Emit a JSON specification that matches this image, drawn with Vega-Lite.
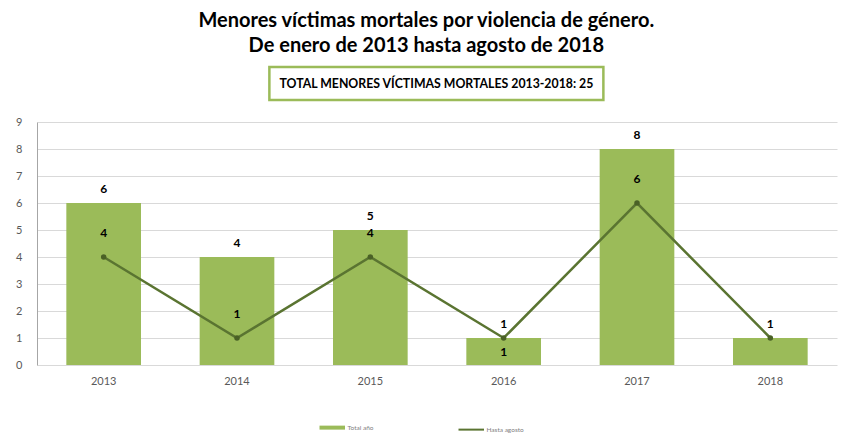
{
  "$schema": "https://vega.github.io/schema/vega-lite/v6.json",
  "background": "white",
  "padding": {"left": 15, "top": 10, "right": 5, "bottom": 2},
  "config": {"legend": {"layout": {"bottom": {"anchor": "middle"}}}},
  "title": {
    "text": ["Menores víctimas mortales por violencia de género.", "De enero de 2013 hasta agosto de 2018"],
    "anchor": "middle",
    "fontSize": 20,
    "font": "Lato",
    "fontWeight": "bold",
    "lineHeight": 25,
    "color": "#000000",
    "offset": 10
  },
  "datasets": {
    "d": [
      {"year": "2013", "total": 6, "hasta": 4},
      {"year": "2014", "total": 4, "hasta": 1},
      {"year": "2015", "total": 5, "hasta": 4},
      {"year": "2016", "total": 1, "hasta": 1},
      {"year": "2017", "total": 8, "hasta": 6},
      {"year": "2018", "total": 1, "hasta": 1}
    ],
    "box": [{"t": "TOTAL MENORES VÍCTIMAS MORTALES 2013-2018: 25"}]
  },
  "center": true,
  "spacing": 14,
  "vconcat": [
    {
      "width": 334,
      "height": 33,
      "data": {"name": "box"},
      "view": {"stroke": "#9bbb59", "strokeWidth": 2.5, "fill": "white"},
      "mark": {"type": "text", "font": "Lato", "fontWeight": "bold", "fontSize": 12.3, "color": "#000000", "align": "center", "baseline": "middle"},
      "encoding": {"text": {"field": "t"}}
    },
    {
      "width": 800,
      "height": 243,
      "data": {"name": "d"},
      "view": {"stroke": null},
      "encoding": {
        "x": {
          "field": "year",
          "type": "ordinal",
          "scale": {"paddingInner": 0.44, "paddingOuter": 0.22},
          "axis": {"title": null, "labelAngle": 0, "ticks": false, "domain": false, "grid": false, "labelColor": "#595959", "labelFontSize": 11, "labelFont": "Lato", "labelPadding": 10}
        }
      },
      "layer": [
        {
          "mark": {"type": "bar"},
          "encoding": {
            "y": {
              "field": "total",
              "type": "quantitative",
              "scale": {"domain": [0, 9]},
              "axis": {"title": null, "values": [0, 1, 2, 3, 4, 5, 6, 7, 8, 9], "labelOverlap": false, "grid": true, "gridColor": "#d9d9d9", "gridWidth": 1.2, "ticks": false, "domain": true, "domainColor": "#a6a6a6", "labelColor": "#595959", "labelFontSize": 11, "labelFont": "Lato", "labelPadding": 15}
            },
            "color": {
              "datum": "Total año",
              "scale": {"domain": ["Total año", "Hasta agosto"], "range": ["#9bbb59", "#5a7431"]},
              "legend": {
                "title": null,
                "orient": "bottom",
                "direction": "horizontal",
                "offset": 38,
                "symbolType": "stroke",
                "symbolSize": 650,
                "symbolStrokeWidth": 3,
                "labelFontSize": 6.5,
                "labelColor": "#7f7f7f",
                "labelFont": "Lato",
                "labelOffset": 12,
                "columnPadding": 80,
                "encode": {
                  "symbols": {
                    "update": {
                      "shape": {"value": "stroke"},
                      "size": {"value": 650},
                      "stroke": {"scale": "color", "field": "value"},
                      "strokeWidth": {"signal": "datum.value === 'Total año' ? 4 : 2"}
                    }
                  }
                }
              }
            }
          }
        },
        {
          "mark": {"type": "text", "dy": -14, "font": "Lato", "fontWeight": "bold", "fontSize": 12, "color": "#000000"},
          "encoding": {
            "y": {"field": "total", "type": "quantitative", "axis": {"title": null, "values": [0, 1, 2, 3, 4, 5, 6, 7, 8, 9], "labelOverlap": false, "grid": true, "gridColor": "#d9d9d9", "gridWidth": 1.2, "ticks": false, "domain": true, "domainColor": "#a6a6a6", "labelColor": "#595959", "labelFontSize": 11, "labelFont": "Lato", "labelPadding": 15}},
            "text": {"field": "total", "type": "quantitative"}
          }
        },
        {
          "mark": {"type": "line", "strokeWidth": 2.5},
          "encoding": {
            "y": {"field": "hasta", "type": "quantitative", "axis": {"title": null, "values": [0, 1, 2, 3, 4, 5, 6, 7, 8, 9], "labelOverlap": false, "grid": true, "gridColor": "#d9d9d9", "gridWidth": 1.2, "ticks": false, "domain": true, "domainColor": "#a6a6a6", "labelColor": "#595959", "labelFontSize": 11, "labelFont": "Lato", "labelPadding": 15}},
            "color": {"datum": "Hasta agosto"}
          }
        },
        {
          "mark": {"type": "point", "filled": true, "size": 30, "color": "#4a6126", "opacity": 1},
          "encoding": {
            "y": {"field": "hasta", "type": "quantitative", "axis": {"title": null, "values": [0, 1, 2, 3, 4, 5, 6, 7, 8, 9], "labelOverlap": false, "grid": true, "gridColor": "#d9d9d9", "gridWidth": 1.2, "ticks": false, "domain": true, "domainColor": "#a6a6a6", "labelColor": "#595959", "labelFontSize": 11, "labelFont": "Lato", "labelPadding": 15}}
          }
        },
        {
          "transform": [{"filter": "datum.year != '2016' && datum.year != '2018'"}],
          "mark": {"type": "text", "dy": -24, "font": "Lato", "fontWeight": "bold", "fontSize": 12, "color": "#000000"},
          "encoding": {
            "y": {"field": "hasta", "type": "quantitative", "axis": {"title": null, "values": [0, 1, 2, 3, 4, 5, 6, 7, 8, 9], "labelOverlap": false, "grid": true, "gridColor": "#d9d9d9", "gridWidth": 1.2, "ticks": false, "domain": true, "domainColor": "#a6a6a6", "labelColor": "#595959", "labelFontSize": 11, "labelFont": "Lato", "labelPadding": 15}},
            "text": {"field": "hasta", "type": "quantitative"}
          }
        },
        {
          "transform": [{"filter": "datum.year == '2016'"}],
          "mark": {"type": "text", "dy": 14, "font": "Lato", "fontWeight": "bold", "fontSize": 12, "color": "#000000"},
          "encoding": {
            "y": {"field": "hasta", "type": "quantitative", "axis": {"title": null, "values": [0, 1, 2, 3, 4, 5, 6, 7, 8, 9], "labelOverlap": false, "grid": true, "gridColor": "#d9d9d9", "gridWidth": 1.2, "ticks": false, "domain": true, "domainColor": "#a6a6a6", "labelColor": "#595959", "labelFontSize": 11, "labelFont": "Lato", "labelPadding": 15}},
            "text": {"field": "hasta", "type": "quantitative"}
          }
        }
      ]
    }
  ]
}
